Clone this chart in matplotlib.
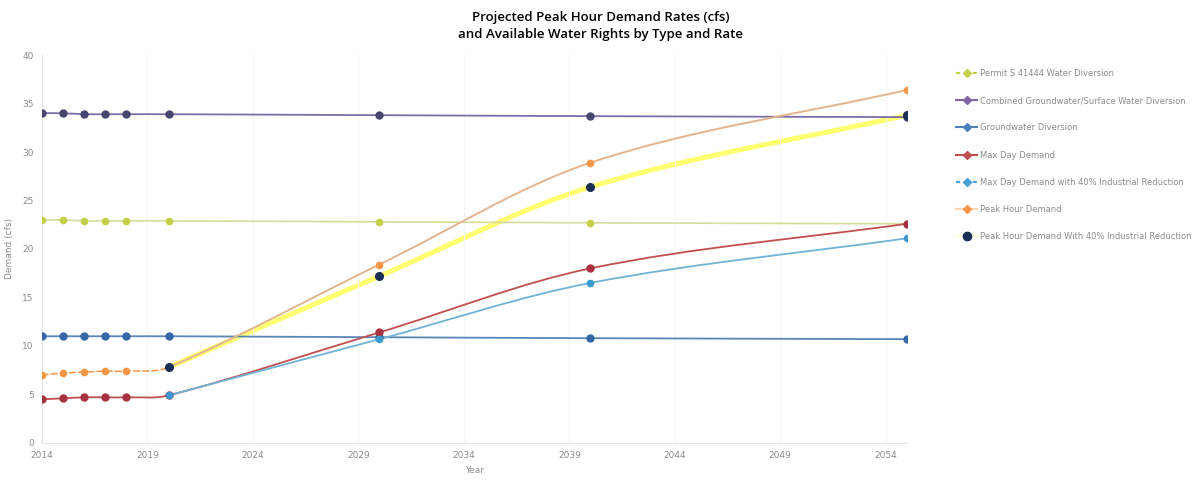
import matplotlib
matplotlib.use("Agg")
import matplotlib.pyplot as plt
from matplotlib.path import Path
from matplotlib.patches import PathPatch
from matplotlib.lines import Line2D

years = [2014, 2015, 2016, 2017, 2018, 2020, 2030, 2040, 2055]
future_years = [2020, 2030, 2040, 2055]

permit = [23.0, 23.0, 22.9, 22.9, 22.9, 22.9, 22.8, 22.7, 22.6]
combined = [34.0, 34.0, 33.9, 33.9, 33.9, 33.9, 33.8, 33.7, 33.6]
groundwater = [11.0, 11.0, 11.0, 11.0, 11.0, 11.0, 10.9, 10.8, 10.7]
max_day = [4.5, 4.6, 4.7, 4.7, 4.7, 4.9, 11.4, 18.0, 22.6]
max_day_red = [4.9, 10.7, 16.5, 21.1]
peak_hour = [7.0, 7.2, 7.3, 7.4, 7.4, 7.8, 18.4, 28.9, 36.4]
peak_hour_red = [7.8, 17.2, 26.4, 33.8]

labels = ["Permit S 41444 Water Diversion",
          "Combined Groundwater/Surface Water Diversion",
          "Groundwater Diversion",
          "Max Day Demand",
          "Max Day Demand with 40% Industrial Reduction",
          "Peak Hour Demand",
          "Peak Hour Demand With 40% Industrial Reduction"]

xticks = [2014, 2019, 2024, 2029, 2034, 2039, 2044, 2049, 2054]
yticks = [0, 5, 10, 15, 20, 25, 30, 35, 40]


def smooth(xs, ys):
    # hermite bezier through the points, like excel "smoothed line"
    n = len(xs)
    m = []
    for i in range(n):
        a = max(i - 1, 0)
        b = min(i + 1, n - 1)
        m.append((ys[b] - ys[a]) / (xs[b] - xs[a]))
    verts = [(xs[0], ys[0])]
    codes = [Path.MOVETO]
    for i in range(n - 1):
        h = (xs[i + 1] - xs[i]) / 3
        verts += [(xs[i] + h, ys[i] + m[i] * h),
                  (xs[i + 1] - h, ys[i + 1] - m[i + 1] * h),
                  (xs[i + 1], ys[i + 1])]
        codes += [Path.CURVE4] * 3
    return verts, codes


def draw(ax, xs, ys, color, lw, ls="-", start=0, stop=None, z=2):
    verts, codes = smooth(xs, ys)
    if stop is None:
        stop = len(xs) - 1
    v = verts[3 * start:3 * stop + 1]
    c = [Path.MOVETO] + codes[3 * start + 1:3 * stop + 1]
    ax.add_patch(PathPatch(Path(v, c), fill=False, edgecolor=color, lw=lw,
                           linestyle=ls, zorder=z, capstyle="round"))


fig = plt.figure(figsize=(12.01, 4.83), dpi=100)
ax = fig.add_axes([0.035, 0.083, 0.72, 0.803])

draw(ax, years, permit, "#d6dc9a", 1.2)
draw(ax, years, combined, "#7a6fa8", 1.3)
draw(ax, years, groundwater, "#5a86b8", 1.3)
draw(ax, years, max_day, "#c0504d", 1.3)
draw(ax, future_years, max_day_red, "#6fb3d6", 1.3)
draw(ax, years, peak_hour, "#f79646", 1.1, ls=(0, (4, 2)), stop=5)
draw(ax, years, peak_hour, "#e4b48e", 1.4, start=5)
draw(ax, future_years, peak_hour_red, "#ffff70", 3.6, z=1.5)

ax.plot(years, permit, "o", color="#c4d04a", ms=4.5, zorder=3)
ax.plot(years, combined, "o", color="#45456e", ms=5, zorder=3)
ax.plot(years, groundwater, "o", color="#3468a8", ms=5, zorder=3)
ax.plot(years, max_day, "o", color="#a8323f", ms=5, zorder=3)
ax.plot(future_years, max_day_red, "o", color="#3d9ad0", ms=4.5, zorder=3)
ax.plot(years, peak_hour, "o", color="#f79646", ms=4.5, zorder=3)
ax.plot(future_years, peak_hour_red, "o", color="#1b2f55", ms=5.5, zorder=4)

ax.set_xlim(2014, 2055)
ax.set_ylim(0, 40)
ax.set_xticks(xticks)
ax.set_xticklabels([str(t) for t in xticks])
ax.set_yticks(yticks)
ax.tick_params(length=0, labelsize=6.5, colors="#8c8c8c", pad=6)
ax.grid(axis="x", color="#f5f5f5", lw=0.8)
for s in ["top", "right"]:
    ax.spines[s].set_visible(False)
for s in ["left", "bottom"]:
    ax.spines[s].set_color("#e6e6e6")
ax.set_xlabel("Year", fontsize=6.5, color="#8c8c8c", labelpad=4)
ax.set_ylabel("Demand (cfs)", fontsize=6.5, color="#8c8c8c", labelpad=6)

fig.text(0.5, 0.978, "Projected Peak Hour Demand Rates (cfs)\nand Available Water Rights by Type and Rate",
         ha="center", va="top", fontsize=9.5, family="Open Sans", fontweight="semibold",
         linespacing=1.45)

handles = [
    Line2D([], [], color="#c4d04a", ls=(0, (2, 2)), marker="D", ms=4),
    Line2D([], [], color="#8064a2", marker="D", ms=4),
    Line2D([], [], color="#4f81bd", marker="D", ms=4),
    Line2D([], [], color="#c0504d", marker="D", ms=4),
    Line2D([], [], color="#4b9fd6", ls=(0, (2, 2)), marker="D", ms=4),
    Line2D([], [], color="#fcd6b0", marker="D", ms=4, mfc="#f79646", mec="#f79646"),
    Line2D([], [], color="#ffffe0", marker="o", ms=6, mfc="#1b2f55", mec="#1b2f55"),
]
fig.legend(handles, labels, loc="upper left", bbox_to_anchor=(0.79, 0.873),
           frameon=False, fontsize=6, labelcolor="#8c8c8c", handlelength=2.5,
           handletextpad=0.3, labelspacing=2.19)

fig.savefig("out.png", dpi=100)
